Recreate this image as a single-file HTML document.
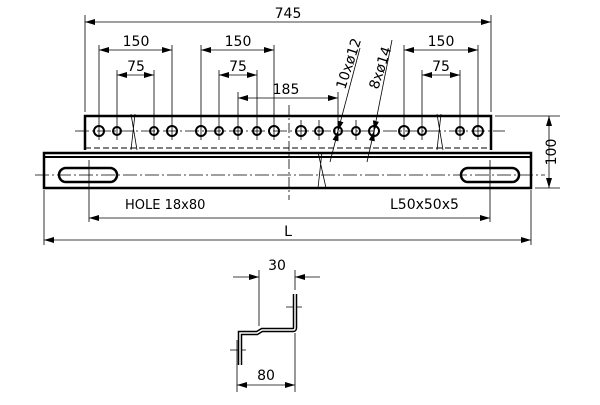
<!DOCTYPE html>
<html><head><style>body{margin:0;background:#fff}text{font-family:"DejaVu Sans","Liberation Sans",sans-serif;fill:#000}</style></head><body>
<svg width="600" height="400" viewBox="0 0 600 400" xmlns="http://www.w3.org/2000/svg">
<defs><marker id="a" viewBox="0 0 10 6" refX="10" refY="3" markerWidth="10" markerHeight="6" orient="auto-start-reverse" markerUnits="userSpaceOnUse"><path d="M0,0L10,3L0,6z" fill="#000"/></marker></defs>
<g stroke="#000" fill="none">
<path d="M85,150V116H491V150" stroke-width="2.5"/>
<line x1="85" y1="148" x2="491" y2="148" stroke-dasharray="6,3" stroke-width="1"/>
<rect x="44" y="153" width="487" height="35" stroke-width="2.5"/>
<line x1="44" y1="157" x2="531" y2="157" stroke-width="2"/>
<rect x="59" y="168" width="58" height="14" rx="7" stroke-width="2.5"/>
<rect x="461" y="168" width="58" height="14" rx="7" stroke-width="2.5"/>
<line x1="35" y1="175" x2="545" y2="175" stroke-width="0.8" stroke-dasharray="14,3,2,3"/>
<line x1="75" y1="131" x2="505" y2="131" stroke-width="0.8" stroke-dasharray="14,3,2,3"/>
<line x1="289" y1="105" x2="289" y2="200" stroke-width="0.8" stroke-dasharray="10,3,2,3"/>
<g stroke-width="2">
<circle cx="99" cy="131" r="5"/><circle cx="117" cy="131" r="4"/><circle cx="154" cy="131" r="4"/><circle cx="172" cy="131" r="5"/>
<circle cx="201" cy="131" r="5"/><circle cx="219" cy="131" r="4"/><circle cx="238" cy="131" r="4"/><circle cx="257" cy="131" r="4"/><circle cx="274" cy="131" r="5"/>
<circle cx="301" cy="131" r="5"/><circle cx="319" cy="131" r="4"/><circle cx="338" cy="131" r="4"/><circle cx="356" cy="131" r="4"/><circle cx="374" cy="131" r="5"/>
<circle cx="404" cy="131" r="5"/><circle cx="422" cy="131" r="4"/><circle cx="460" cy="131" r="4"/><circle cx="478" cy="131" r="5"/>
</g>
<g stroke-width="0.8">
<path d="M99,45V140M117,70V140M154,70V140M172,45V140M201,45V140M219,70V140M238,92V140M257,70V140M274,45V140M319,120V140M338,92V140M356,120V140M404,45V140M422,70V140M460,70V140M478,45V140M301,120V140M374,120V140"/>
<path d="M85,15V112M491,15V112"/>
<line x1="85" y1="22" x2="491" y2="22" marker-start="url(#a)" marker-end="url(#a)"/>
<line x1="99" y1="50" x2="172" y2="50" marker-start="url(#a)" marker-end="url(#a)"/>
<line x1="201" y1="50" x2="274" y2="50" marker-start="url(#a)" marker-end="url(#a)"/>
<line x1="404" y1="50" x2="478" y2="50" marker-start="url(#a)" marker-end="url(#a)"/>
<line x1="117" y1="75" x2="154" y2="75" marker-start="url(#a)" marker-end="url(#a)"/>
<line x1="219" y1="75" x2="257" y2="75" marker-start="url(#a)" marker-end="url(#a)"/>
<line x1="422" y1="75" x2="460" y2="75" marker-start="url(#a)" marker-end="url(#a)"/>
<line x1="238" y1="98" x2="338" y2="98" marker-start="url(#a)" marker-end="url(#a)"/>
<line x1="360" y1="48" x2="338" y2="131" marker-end="url(#a)"/>
<line x1="330" y1="162" x2="338" y2="131" marker-end="url(#a)"/>
<line x1="392" y1="40" x2="374" y2="131" marker-end="url(#a)"/>
<line x1="367" y1="162" x2="374" y2="131" marker-end="url(#a)"/>
<path d="M495,116H560M535,188H560"/>
<line x1="549" y1="116" x2="549" y2="188" marker-start="url(#a)" marker-end="url(#a)"/>
<path d="M89,160V222M490,160V222M44,190V245M531,190V245"/>
<line x1="89" y1="218" x2="490" y2="218" marker-start="url(#a)" marker-end="url(#a)"/>
<line x1="44" y1="240" x2="531" y2="240" marker-start="url(#a)" marker-end="url(#a)"/>
<path d="M131,114L137,150M135,114l-4,36M437,114l6,36M441,114l-4,36M318,152l8,36M322,152l-4,36"/>
<path d="M259,270V326M295,270V290M295,333V392M237,340V392"/>
<line x1="233" y1="277" x2="259" y2="277" marker-end="url(#a)"/>
<line x1="320" y1="277" x2="295" y2="277" marker-end="url(#a)"/>
<line x1="237" y1="385" x2="295" y2="385" marker-start="url(#a)" marker-end="url(#a)"/>
<path d="M286,307H302M230,350H246"/>
</g>
<path d="M295,294V328Q295,330 293,330H262L257,333H240V365" stroke-width="4.5" stroke="#000"/>
<path d="M295,294V328Q295,330 293,330H262L257,333H240V365" stroke-width="1.5" stroke="#fff"/>
</g>
<g font-size="14">
<text x="288" y="18" text-anchor="middle">745</text>
<text x="136" y="46" text-anchor="middle">150</text>
<text x="238" y="46" text-anchor="middle">150</text>
<text x="441" y="46" text-anchor="middle">150</text>
<text x="136" y="71" text-anchor="middle">75</text>
<text x="238" y="71" text-anchor="middle">75</text>
<text x="441" y="71" text-anchor="middle">75</text>
<text x="286" y="94" text-anchor="middle">185</text>
<text transform="translate(345,90) rotate(-72)">10xø12</text>
<text transform="translate(378,90) rotate(-72)">8xø14</text>
<text transform="translate(556,152) rotate(-90)" text-anchor="middle">100</text>
<text x="125" y="209" font-size="13">HOLE 18x80</text>
<text x="390" y="209">L50x50x5</text>
<text x="288" y="236" text-anchor="middle">L</text>
<text x="277" y="270" text-anchor="middle">30</text>
<text x="266" y="380" text-anchor="middle">80</text>
</g>
</svg>
</body></html>
